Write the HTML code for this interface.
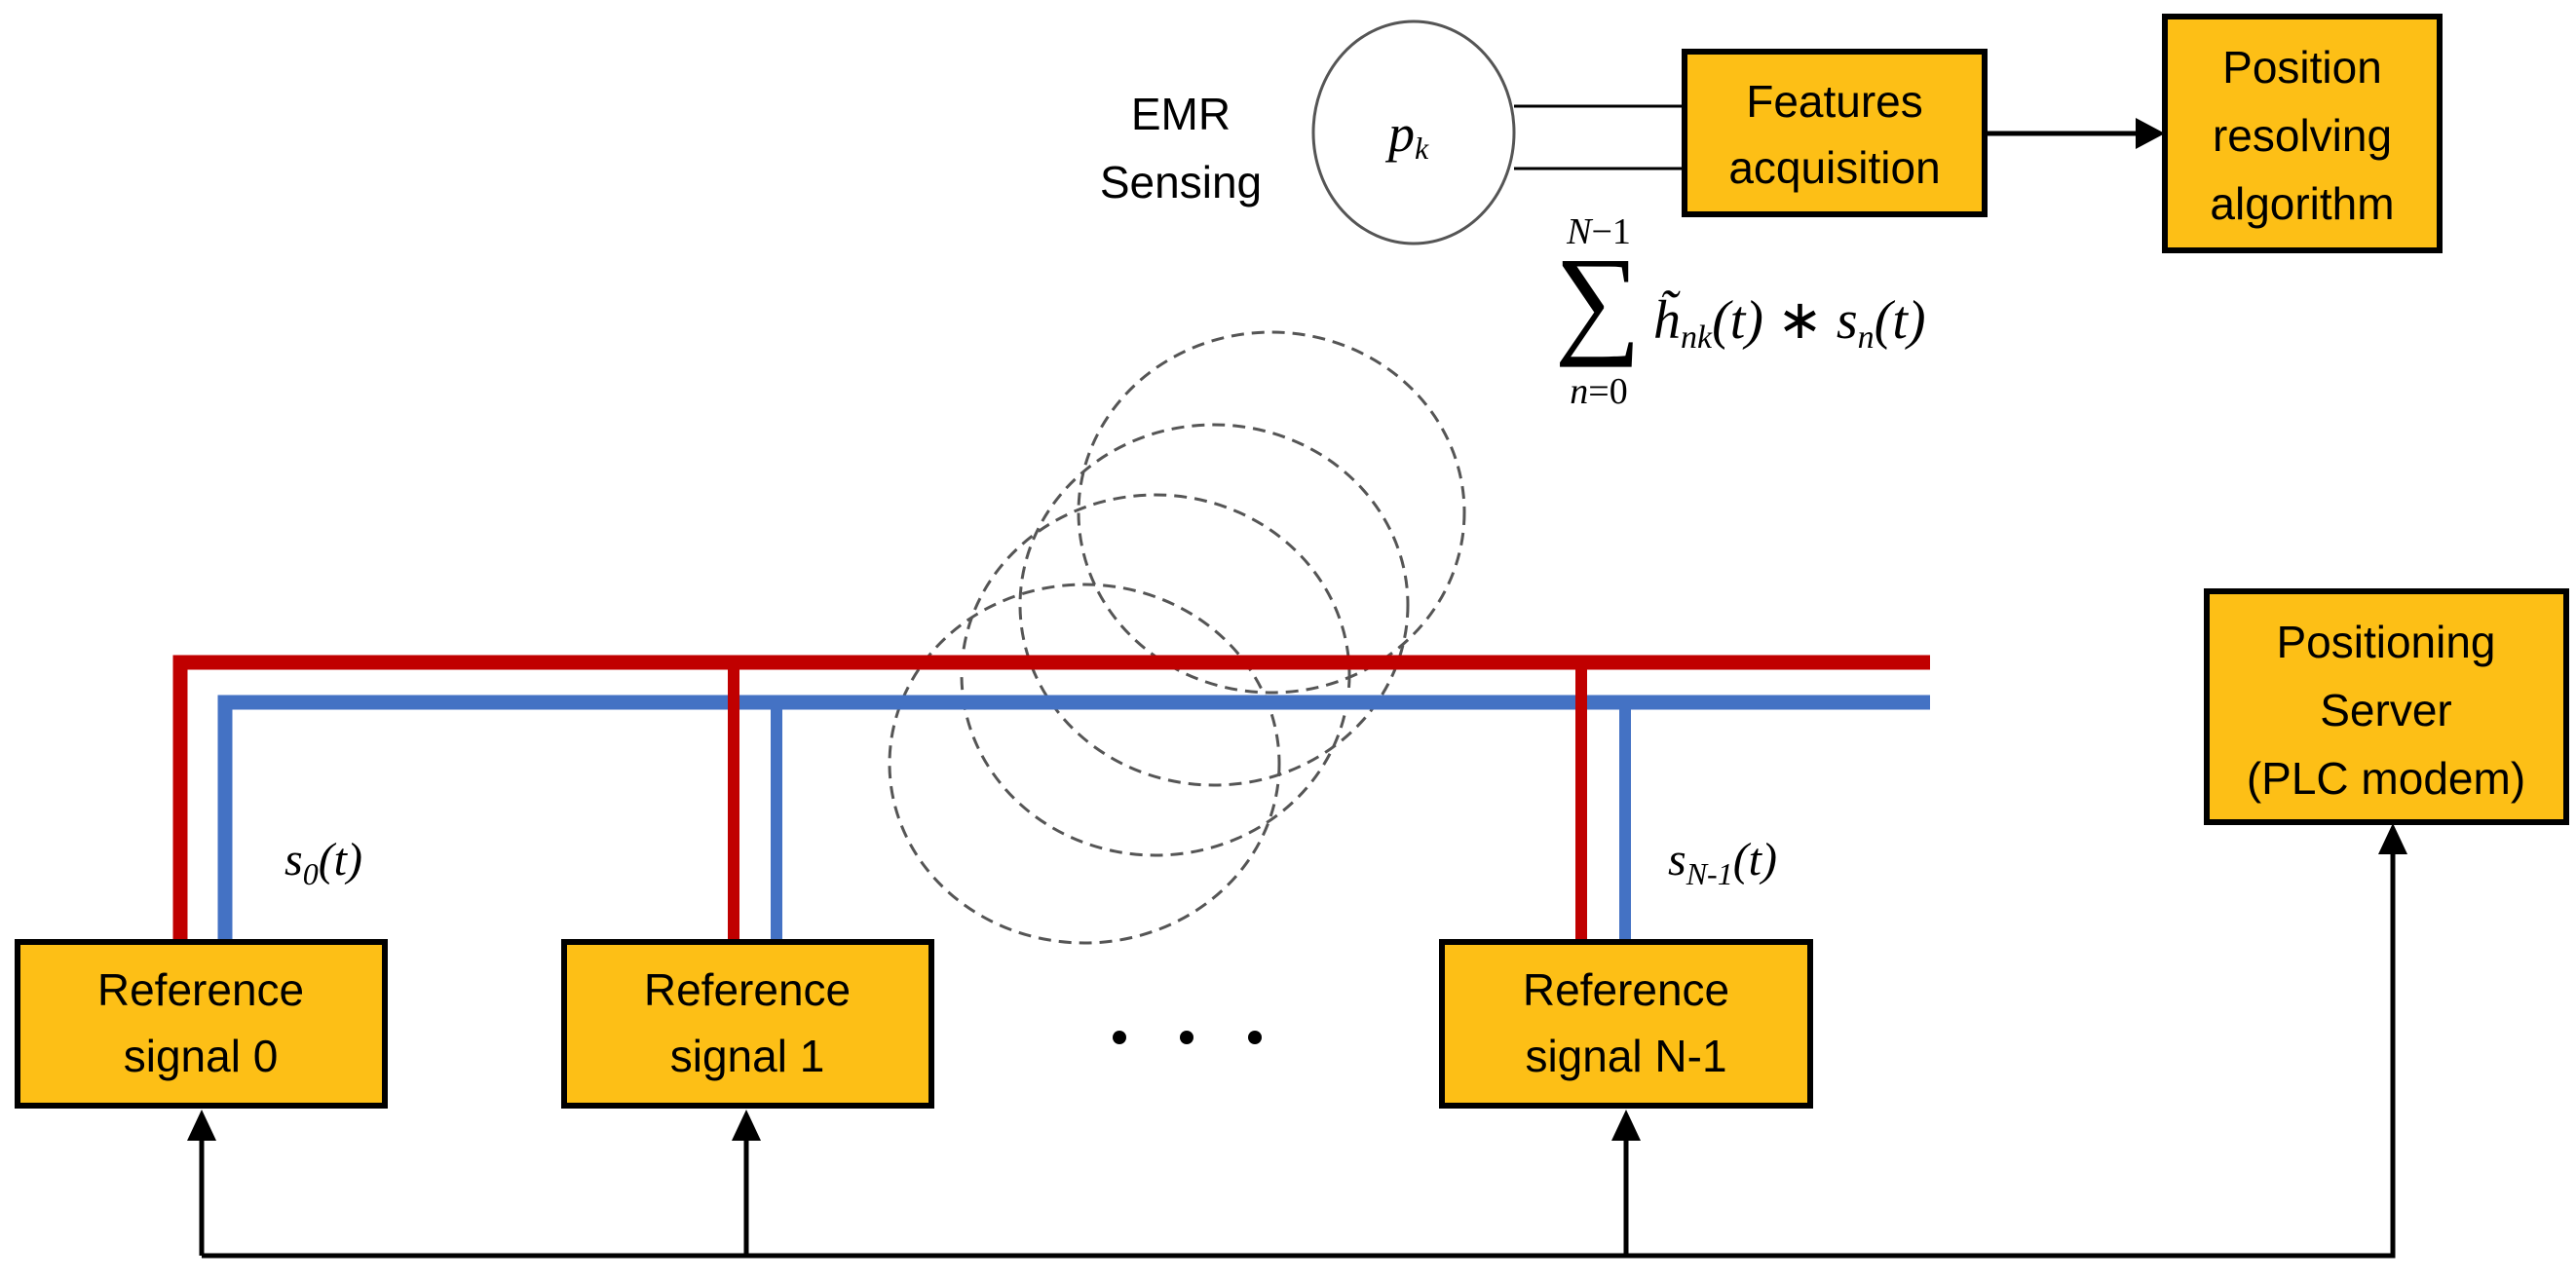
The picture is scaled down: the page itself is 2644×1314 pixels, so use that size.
<!DOCTYPE html>
<html><head><meta charset="utf-8"><style>
html,body{margin:0;padding:0;background:#fff;}
svg{display:block;}
.t{font-family:"Liberation Sans",sans-serif;font-size:46px;fill:#000;text-anchor:middle;}
.m{font-family:"Liberation Serif",serif;font-style:italic;fill:#000;}
</style></head><body>
<svg width="2644" height="1314" viewBox="0 0 2644 1314" xmlns="http://www.w3.org/2000/svg">
<g fill="none" stroke="#555" stroke-width="3" stroke-dasharray="13,8">
<ellipse cx="1305" cy="526" rx="198" ry="185"/>
<ellipse cx="1246" cy="621" rx="199" ry="185"/>
<ellipse cx="1186" cy="693" rx="199" ry="185"/>
<ellipse cx="1113" cy="784" rx="200" ry="184"/>
</g>
<g fill="none" stroke-linejoin="miter">
<path d="M185 966 V680 H1981" stroke="#c00000" stroke-width="15"/>
<path d="M231 966 V721 H1981" stroke="#4472c4" stroke-width="15"/>
<path d="M753 966 V680" stroke="#c00000" stroke-width="12"/>
<path d="M797 966 V721" stroke="#4472c4" stroke-width="12"/>
<path d="M1623 966 V680" stroke="#c00000" stroke-width="12"/>
<path d="M1668 966 V721" stroke="#4472c4" stroke-width="12"/>
</g>
<text class="t" x="1212" y="133">EMR</text>
<text class="t" x="1212" y="203">Sensing</text>
<ellipse cx="1451" cy="136" rx="103" ry="114" fill="#fff" stroke="#555" stroke-width="3"/>
<text class="m" x="1425" y="155" font-size="54">p<tspan font-size="32" dy="8">k</tspan></text>
<line x1="1554" y1="109" x2="1729" y2="109" stroke="#000" stroke-width="3"/>
<line x1="1554" y1="173" x2="1729" y2="173" stroke="#000" stroke-width="3"/>
<g fill="#fdbf16" stroke="#000" stroke-width="6">
<rect x="1729" y="53" width="308" height="167"/>
<rect x="2222" y="17" width="282" height="240"/>
<rect x="2265" y="607" width="369" height="237"/>
<rect x="18" y="967" width="377" height="168"/>
<rect x="579" y="967" width="377" height="168"/>
<rect x="1480" y="967" width="378" height="168"/>
</g>
<text class="t" x="1883" y="120">Features</text>
<text class="t" x="1883" y="188">acquisition</text>
<text class="t" x="2363" y="85">Position</text>
<text class="t" x="2363" y="155">resolving</text>
<text class="t" x="2363" y="225">algorithm</text>
<text class="t" x="2449" y="675">Positioning</text>
<text class="t" x="2449" y="745">Server</text>
<text class="t" x="2449" y="815">(PLC modem)</text>
<text class="t" x="206" y="1032">Reference</text>
<text class="t" x="206" y="1100">signal 0</text>
<text class="t" x="767" y="1032">Reference</text>
<text class="t" x="767" y="1100">signal 1</text>
<text class="t" x="1669" y="1032">Reference</text>
<text class="t" x="1669" y="1100">signal N-1</text>
<line x1="2037" y1="137" x2="2200" y2="137" stroke="#000" stroke-width="5"/>
<polygon points="2222,137 2192,121 2192,153" fill="#000"/>
<text class="m" x="1641" y="250" font-size="38" text-anchor="middle">N<tspan font-style="normal">−1</tspan></text>
<text x="1640" y="350" font-family="Liberation Serif,serif" font-size="125" text-anchor="middle">∑</text>
<text class="m" x="1641" y="414" font-size="38" text-anchor="middle">n<tspan font-style="normal">=0</tspan></text>
<text class="m" x="1697" y="347" font-size="56">h̃<tspan font-size="34" dy="10">nk</tspan><tspan dy="-10">(t) </tspan><tspan font-style="normal">∗</tspan> s<tspan font-size="34" dy="10">n</tspan><tspan dy="-10">(t)</tspan></text>
<text class="m" x="292" y="898" font-size="48">s<tspan font-size="32" dy="10">0</tspan><tspan dy="-10">(t)</tspan></text>
<text class="m" x="1712" y="898" font-size="48">s<tspan font-size="32" dy="10">N-1</tspan><tspan dy="-10">(t)</tspan></text>
<circle cx="1149" cy="1065" r="7" fill="#000"/>
<circle cx="1218" cy="1065" r="7" fill="#000"/>
<circle cx="1288" cy="1065" r="7" fill="#000"/>
<g stroke="#000" stroke-width="5" fill="none">
<path d="M207 1289 H2456 V870"/>
<path d="M207 1289 V1165"/>
<path d="M766 1289 V1165"/>
<path d="M1669 1289 V1165"/>
</g>
<g fill="#000">
<polygon points="207,1139 192,1171 222,1171"/>
<polygon points="766,1139 751,1171 781,1171"/>
<polygon points="1669,1139 1654,1171 1684,1171"/>
<polygon points="2456,845 2441,877 2471,877"/>
</g>
</svg>
</body></html>
